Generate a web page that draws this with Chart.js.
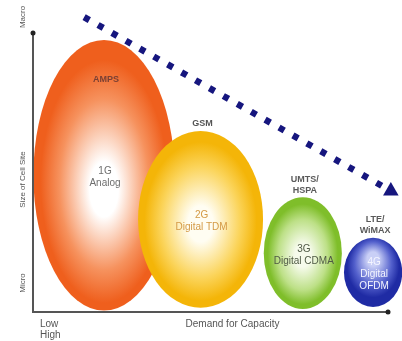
<!DOCTYPE html>
<html>
<head>
<meta charset="utf-8">
<script src="https://cdn.jsdelivr.net/npm/chart.js@4"></script>
<style>
  html, body { margin: 0; padding: 0; background: #ffffff; }
  canvas { display: block; }
</style>
</head>
<body>
<canvas id="cells" width="402" height="341"></canvas>
<script>
// Cellular generations: demand for capacity (x) vs. size of cell site (y), 0..100
const technologies   = [['AMPS'], ['GSM'], ['UMTS/', 'HSPA'], ['LTE/', 'WiMAX']];
const generations    = ['1G', '2G', '3G', '4G'];
const accessSchemes  = ['Analog', 'Digital TDM', 'Digital CDMA', 'Digital OFDM'];
const demandLevel    = [20, 47.2, 76, 95.8];     // centre of each generation, x
const cellSize       = [49, 33.2, 21.1, 14.2];   // centre of each generation, y
const demandSpread   = [19.9, 17.6, 11, 8.2];    // half extent along x
const cellSizeSpread = [48.5, 31.7, 20, 12.4];   // half extent along y

// trend: shrinking cells as demand grows
const trendDemand   = [14.4, 100.8];
const trendCellSize = [105.7, 43.4];

const yAxisLabels = ['Macro', 'Size of Cell Site', 'Micro'];
const xAxisTitle  = 'Demand for Capacity';
const xAxisEnds   = ['Low', 'High'];

// fill colours: centre, middle, rim; plus vertical offset of the highlight
const palette = [
  ['#ffffff', '#f6925e', '#ef5f1d', 0.12],
  ['#fffdf2', '#fbd45a', '#f4b508', 0.06],
  ['#f6fbec', '#bde087', '#7fbe2a', 0.05],
  ['#c9cff6', '#5360cc', '#1f2ba4', -0.45]
];
const techColors = ['#7a4034', '#555555', '#5a5a5a', '#5a5a5a'];
const genColors  = ['#6e6e6e', '#d49a45', '#4f5a45', '#f4f5ff'];

const FONT = '"Liberation Sans", Arial, sans-serif';

const cellPoints = demandLevel.map((x, i) => ({
  x, y: cellSize[i], w: demandSpread[i], h: cellSizeSpread[i]
}));
const trendPoints = trendDemand.map((x, i) => ({ x, y: trendCellSize[i] }));

const cellPlugin = {
  id: 'cellEllipses',
  beforeDatasetsDraw(chart) {
    const { ctx, scales: { x, y } } = chart;
    const meta = chart.getDatasetMeta(1);
    meta.data.forEach((pt, i) => {
      const d = cellPoints[i];
      const rx = Math.abs(x.getPixelForValue(d.x + d.w) - pt.x);
      const ry = Math.abs(y.getPixelForValue(d.y + d.h) - pt.y);
      const [c0, c1, c2, off] = palette[i];
      ctx.save();
      ctx.translate(pt.x, pt.y);
      ctx.scale(rx, ry);
      const g = ctx.createRadialGradient(0, off, 0, 0, off * 0.3, 1.02);
      g.addColorStop(0, c0);
      g.addColorStop(0.2, c0);
      g.addColorStop(0.62, c1);
      g.addColorStop(0.88, c2);
      g.addColorStop(1, c2);
      ctx.beginPath();
      ctx.arc(0, 0, 1, 0, Math.PI * 2);
      ctx.fillStyle = g;
      ctx.fill();
      ctx.restore();
    });
  },
  afterDatasetsDraw(chart) {
    const { ctx, chartArea: a, scales: { x, y } } = chart;
    const meta = chart.getDatasetMeta(1);
    ctx.save();
    ctx.textAlign = 'center';
    ctx.textBaseline = 'middle';
    meta.data.forEach((pt, i) => {
      const d = cellPoints[i];
      const rx = Math.abs(x.getPixelForValue(d.x + d.w) - pt.x);
      const top = y.getPixelForValue(d.y + d.h);
      // technology name
      ctx.font = 'bold 9px ' + FONT;
      ctx.fillStyle = techColors[i];
      const tl = technologies[i];
      tl.forEach((t, k) => {
        const ty = i === 0 ? top + 40 + k * 11 : top - 7 - (tl.length - 1 - k) * 11;
        ctx.fillText(t, pt.x + 2, ty);
      });
      // generation + access scheme
      ctx.font = '10px ' + FONT;
      const lines = [generations[i]];
      if (ctx.measureText(accessSchemes[i]).width > rx * 1.7) {
        lines.push(...accessSchemes[i].split(' '));
      } else {
        lines.push(accessSchemes[i]);
      }
      ctx.fillStyle = genColors[i];
      const lh = 12;
      const y0 = pt.y - (lines.length - 1) * lh / 2 + 2;
      lines.forEach((t, k) => ctx.fillText(t, pt.x + 1, y0 + k * lh));
    });

    // axes
    ctx.strokeStyle = '#555555';
    ctx.lineWidth = 2;
    ctx.beginPath();
    ctx.moveTo(a.left, a.top);
    ctx.lineTo(a.left, a.bottom);
    ctx.lineTo(a.right, a.bottom);
    ctx.stroke();
    ctx.fillStyle = '#222222';
    [[a.left, a.top], [a.right, a.bottom]].forEach(([px, py]) => {
      ctx.beginPath();
      ctx.arc(px, py, 2.5, 0, Math.PI * 2);
      ctx.fill();
    });

    // axis texts
    ctx.fillStyle = '#555555';
    ctx.font = '8px ' + FONT;
    const yLabelPos = [a.top - 16, (a.top + a.bottom) / 2 + 7, a.bottom - 29];
    yAxisLabels.forEach((t, k) => {
      ctx.save();
      ctx.translate(a.left - 10, yLabelPos[k]);
      ctx.rotate(-Math.PI / 2);
      ctx.fillText(t, 0, 0);
      ctx.restore();
    });
    ctx.font = '10px ' + FONT;
    ctx.fillText(xAxisTitle, (a.left + a.right) / 2 + 22, a.bottom + 12);
    ctx.textAlign = 'left';
    ctx.fillText(xAxisEnds[0], a.left + 7, a.bottom + 12);
    ctx.fillText(xAxisEnds[1], a.left + 7, a.bottom + 23);
    ctx.restore();
  }
};

new Chart(document.getElementById('cells'), {
  type: 'scatter',
  data: {
    datasets: [
      {
        label: 'trend',
        data: trendPoints,
        showLine: true,
        borderColor: '#16167e',
        backgroundColor: '#16167e',
        borderWidth: 6.5,
        borderDash: [6, 10],
        borderCapStyle: 'butt',
        pointStyle: 'triangle',
        pointRadius: [0, 9],
        pointBorderWidth: 0,
        clip: false,
        order: 0
      },
      {
        label: 'generations',
        data: cellPoints,
        pointRadius: 0,
        clip: false,
        order: 1
      }
    ]
  },
  options: {
    responsive: false,
    devicePixelRatio: 1,
    animation: false,
    layout: { padding: { left: 33, right: 14, top: 33, bottom: 29 } },
    plugins: { legend: { display: false }, tooltip: { enabled: false } },
    scales: {
      x: { type: 'linear', min: 0, max: 100, display: false },
      y: { type: 'linear', min: 0, max: 100, display: false }
    }
  },
  plugins: [cellPlugin]
});
</script>
</body>
</html>
